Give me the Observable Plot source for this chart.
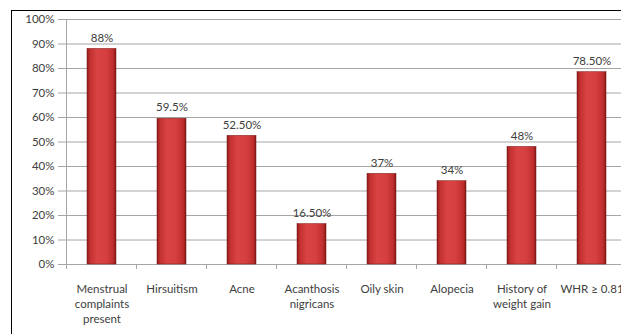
<!DOCTYPE html>
<html>
<head>
<meta charset="utf-8">
<script src="https://cdn.jsdelivr.net/npm/d3@7"></script>
<script src="https://cdn.jsdelivr.net/npm/@observablehq/plot@0.6"></script>
<style>
  html, body { margin: 0; padding: 0; background: #fff; overflow: hidden; }
  #wrap { position: relative; width: 621px; height: 334px; }
  #border { position: absolute; left: 11px; top: 10px; right: -5px; bottom: -5px; border-left: 1.5px solid #000; border-top: 1.5px solid #000; pointer-events: none; }
  svg { font-family: "Lato", "Open Sans", sans-serif; }
</style>
</head>
<body>
<div id="wrap"><div id="border"></div></div>
<script>
const categories = ["Menstrual complaints present", "Hirsuitism", "Acne", "Acanthosis nigricans", "Oily skin", "Alopecia", "History of weight gain", "WHR ≥ 0.81"];
const tickLabels = ["Menstrual\ncomplaints\npresent", "Hirsuitism", "Acne", "Acanthosis\nnigricans", "Oily skin", "Alopecia", "History of\nweight gain", "WHR ≥ 0.81"];
const values = [88, 59.5, 52.5, 16.5, 37, 34, 48, 78.5];
const valueLabels = ["88%", "59.5%", "52.50%", "16.50%", "37%", "34%", "48%", "78.50%"];
const yTicks = [0, 10, 20, 30, 40, 50, 60, 70, 80, 90, 100];

const data = categories.map((c, i) => ({cat: c, value: values[i], label: valueLabels[i], tick: tickLabels[i]}));
const labelOf = new Map(data.map(d => [d.cat, d.tick]));

const textColor = "#404040";
const gridColor = "#a6a6a6";

// y-axis line and band-boundary tick marks, positioned via the plot's scales
function axisLines(index, scales, values, dims) {
  const x = scales.x, y = scales.y;
  const bw = typeof x.bandwidth === "function" ? x.bandwidth() : (x.bandwidth || 0);
  const centers = categories.map(c => x(c) + bw / 2);
  const step = centers[1] - centers[0];
  const g = d3.create("svg:g").attr("stroke", gridColor).attr("stroke-width", 1);
  const y0 = y(0);
  const xl = centers[0] - step / 2;
  g.append("line").attr("x1", xl).attr("x2", xl).attr("y1", y(100)).attr("y2", y0);
  centers.concat([centers[centers.length - 1] + step]).forEach(cx => {
    g.append("line").attr("x1", cx - step / 2).attr("x2", cx - step / 2).attr("y1", y0).attr("y2", y0 + 5);
  });
  return g.node();
}

function gradientDefs() {
  const defs = d3.create("svg:defs");
  const lg = defs.append("linearGradient").attr("id", "barGrad").attr("x1", "0").attr("x2", "1").attr("y1", "0").attr("y2", "0");
  [[0, "#8e1a1a"], [0.1, "#c23030"], [0.35, "#d94343"], [0.65, "#d63f3f"], [0.9, "#bf2e2e"], [1, "#851616"]]
    .forEach(([o, c]) => lg.append("stop").attr("offset", o).attr("stop-color", c));
  return defs.node();
}

const chart = Plot.plot({
  width: 621,
  height: 334,
  marginTop: 19,
  marginBottom: 70,
  marginLeft: 63,
  marginRight: 0,
  style: {fontSize: "11.5px", color: textColor, background: "transparent"},
  x: {domain: categories, range: [63, 629], paddingInner: 0.59, paddingOuter: 0.295, label: null, axis: null},
  y: {domain: [0, 100], label: null, axis: null},
  marks: [
    gradientDefs,
    Plot.ruleY(yTicks, {stroke: gridColor, strokeWidth: 1}),
    Plot.axisY({ticks: yTicks, tickFormat: d => d + "%", tickSize: 5, tickPadding: 4, stroke: gridColor, strokeOpacity: 1, fill: textColor, label: null}),
    Plot.axisX({tickSize: 0, tickPadding: 18, tickFormat: d => labelOf.get(d), lineHeight: 1.3, fill: textColor, label: null}),
    axisLines,
    Plot.barY(data, {x: "cat", y: "value", fill: "url(#barGrad)", stroke: "#7a1414", strokeWidth: 0.5}),
    Plot.text(data, {x: "cat", y: "value", text: "label", dy: -11, fill: textColor, fontSize: 11.5})
  ]
});

document.getElementById("wrap").insertBefore(chart, document.getElementById("border"));
</script>
</body>
</html>
